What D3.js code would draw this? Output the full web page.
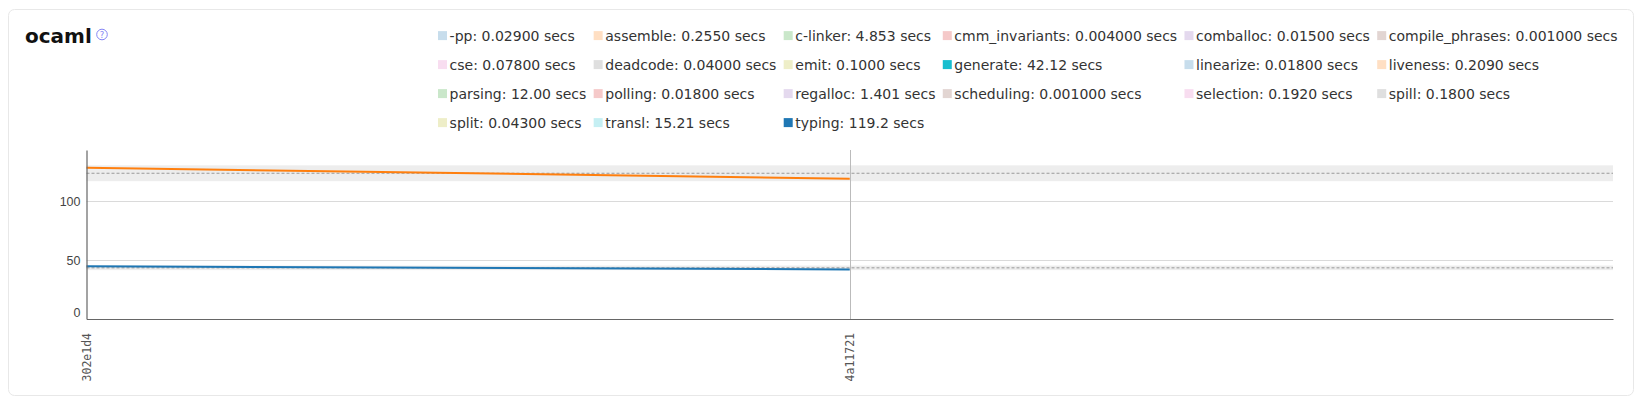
<!DOCTYPE html>
<html>
<head>
<meta charset="utf-8">
<script src="https://cdn.jsdelivr.net/npm/d3@7"></script>
<style>
  html, body { margin: 0; padding: 0; background: #fff; }
  svg { display: block; font-family: "DejaVu Sans", sans-serif; }
</style>
</head>
<body>
<svg id="chart" width="1644" height="408"></svg>
<script>
// ---- data ----
const commits = ["302e1d4", "4a11721"];
const seriesNames = ["-pp", "assemble", "c-linker", "cmm_invariants", "comballoc", "compile_phrases",
  "cse", "deadcode", "emit", "generate", "linearize", "liveness",
  "parsing", "polling", "regalloc", "scheduling", "selection", "spill",
  "split", "transl", "typing"];
const latestSecs = [0.029, 0.255, 4.853, 0.004, 0.015, 0.001,
  0.078, 0.04, 0.1, 42.12, 0.018, 0.209,
  12.0, 0.018, 1.401, 0.001, 0.192, 0.18,
  0.043, 15.21, 119.2];
const selectedSeries = ["generate", "typing"];
const generateSecs = [44.9, 42.12];
const typingSecs = [128.7, 119.2];
const plotted = [
  { name: "generate", values: generateSecs },
  { name: "typing", values: typingSecs }
];

// ---- layout ----
const plot = { left: 86.5, right: 1613, top: 150, bottom: 319 };
const svg = d3.select("#chart");

// card
svg.append("rect")
  .attr("x", 8.5).attr("y", 9.5).attr("width", 1625).attr("height", 386)
  .attr("rx", 6).attr("fill", "#fff").attr("stroke", "#e8e8e8");

// title
svg.append("text").attr("x", 25).attr("y", 43)
  .attr("font-size", 20).attr("font-weight", "bold").attr("fill", "#111")
  .text("ocaml");
const help = svg.append("g").attr("transform", "translate(102,34.5)");
help.append("circle").attr("r", 5.3).attr("fill", "none").attr("stroke", "#8585f5").attr("stroke-width", 1);
help.append("text").attr("text-anchor", "middle").attr("dy", "0.36em")
  .attr("font-size", 8.5).attr("fill", "#8585f5").text("?");

// ---- legend ----
const cat10 = d3.schemeCategory10;
const fmt = d3.format(".4r");
const nCols = 6, rowY0 = 35.6, rowStep = 29, legX0 = 438, sw = 9, txtOff = 11.6, colGap = 7.3;
const legend = svg.append("g");
const items = legend.selectAll("g.item").data(seriesNames).join("g").attr("class", "item");
items.append("rect")
  .attr("width", sw).attr("height", sw).attr("y", -sw / 2)
  .attr("fill", (d, i) => cat10[i % 10])
  .attr("fill-opacity", d => selectedSeries.includes(d) ? 1 : 0.25);
items.append("text")
  .attr("x", txtOff).attr("dy", "0.35em")
  .attr("font-size", 14).attr("fill", "#333")
  .text((d, i) => `${d}: ${fmt(latestSecs[i])} secs`);
const widths = [];
items.select("text").each(function (d, i) {
  const c = i % nCols;
  widths[c] = Math.max(widths[c] || 0, this.getComputedTextLength() + txtOff);
});
const colX = [];
let acc = legX0;
for (let c = 0; c < nCols; c++) { colX[c] = acc; acc += widths[c] + colGap; }
items.attr("transform", (d, i) => `translate(${colX[i % nCols]},${rowY0 + Math.floor(i / nCols) * rowStep})`);

// ---- scales ----
const stats = plotted.map(s => ({
  name: s.name,
  mean: d3.mean(s.values),
  sd: d3.deviation(s.values)
}));
const yMax = d3.max(stats, s => s.mean + s.sd) * 1.1;
const x = d3.scaleLinear().domain([0, commits.length]).range([plot.left, plot.right]);
const y = d3.scaleLinear().domain([0, yMax]).range([plot.bottom, plot.top]);

// gridlines
svg.append("g").selectAll("line").data(y.ticks(3).filter(t => t > 0)).join("line")
  .attr("x1", plot.left).attr("x2", plot.right)
  .attr("y1", d => Math.round(y(d)) + 0.5).attr("y2", d => Math.round(y(d)) + 0.5)
  .attr("stroke", "#dadada").attr("stroke-width", 1);

// bands and mean lines
svg.append("g").selectAll("rect").data(stats).join("rect")
  .attr("x", x(0)).attr("width", x(commits.length) - x(0))
  .attr("y", d => y(d.mean + d.sd)).attr("height", d => y(d.mean - d.sd) - y(d.mean + d.sd))
  .attr("fill", "#ededed");
svg.append("g").selectAll("line").data(stats).join("line")
  .attr("x1", x(0)).attr("x2", x(commits.length))
  .attr("y1", d => y(d.mean)).attr("y2", d => y(d.mean))
  .attr("stroke", "#999").attr("stroke-width", 1).attr("stroke-dasharray", "3,2");

// latest-commit vertical line
svg.append("line")
  .attr("x1", Math.round(x(commits.length - 1)) + 0.5).attr("x2", Math.round(x(commits.length - 1)) + 0.5)
  .attr("y1", plot.top).attr("y2", plot.bottom)
  .attr("stroke", "#bbb").attr("stroke-width", 1);

// series lines
const line = d3.line().x((d, i) => x(i)).y(d => y(d));
svg.append("g").selectAll("path").data(plotted).join("path")
  .attr("d", d => line(d.values))
  .attr("fill", "none")
  .attr("stroke", (d, i) => cat10[i])
  .attr("stroke-width", 2);

// axes
const yAxis = svg.append("g").attr("transform", `translate(${plot.left},0)`)
  .call(d3.axisLeft(y).ticks(3).tickSize(0).tickPadding(6));
yAxis.select(".domain").attr("stroke", "#666").attr("stroke-width", 1.2);
yAxis.selectAll("text")
  .attr("font-family", "Liberation Sans, Arial, sans-serif").attr("font-size", 12.5).attr("fill", "#444")
  .attr("dy", d => d === 0 ? "-0.22em" : "0.32em");

const xAxis = svg.append("g").attr("transform", `translate(0,${plot.bottom})`)
  .call(d3.axisBottom(x).tickValues(d3.range(commits.length)).tickFormat(i => commits[i]).tickSize(0).tickSizeOuter(0));
xAxis.select(".domain").attr("stroke", "#666").attr("stroke-width", 1.2);
xAxis.selectAll("text")
  .attr("font-family", "DejaVu Sans Mono, monospace").attr("font-size", 11.5).attr("fill", "#555")
  .attr("transform", "rotate(-90)")
  .attr("text-anchor", "end")
  .attr("x", -14).attr("y", 0).attr("dy", "0.35em");
</script>
</body>
</html>
